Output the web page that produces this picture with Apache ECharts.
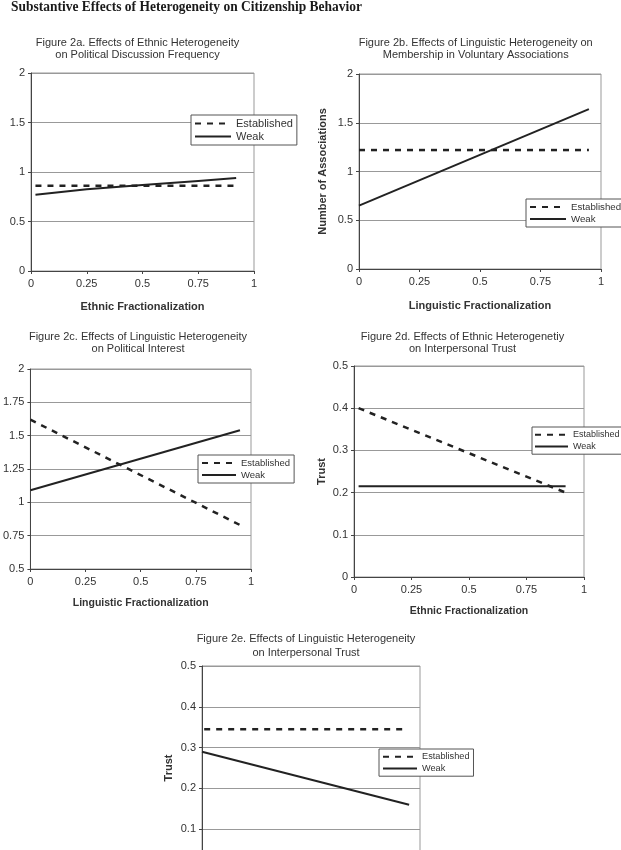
<!DOCTYPE html>
<html><head><meta charset="utf-8">
<script src="https://cdn.jsdelivr.net/npm/echarts@6/dist/echarts.min.js"></script>
<style>html,body{margin:0;padding:0;background:#fff;height:850px;overflow:hidden;}#c{width:621px;height:900px;}</style>
</head><body><div id="c"></div>
<script>
const mainTitle = 'Substantive Effects of Heterogeneity on Citizenship Behavior';
const seriesNames = ['Established', 'Weak'];

const fig2aTitle = 'Figure 2a. Effects of Ethnic Heterogeneity\non Political Discussion Frequency';
const fig2aX = [0.02, 0.25, 0.5, 0.75, 0.92];
const fig2aEstablished = [0.86, 0.86, 0.86, 0.86, 0.86];
const fig2aWeak = [0.77, 0.825, 0.868, 0.91, 0.94];

const fig2bTitle = 'Figure 2b. Effects of Linguistic Heterogeneity on\nMembership in Voluntary Associations';
const fig2bX = [0, 0.95];
const fig2bEstablished = [1.22, 1.22];
const fig2bWeak = [0.65, 1.64];

const fig2cTitle = 'Figure 2c. Effects of Linguistic Heterogeneity\non Political Interest';
const fig2cX = [0, 0.95];
const fig2cEstablished = [1.62, 0.83];
const fig2cWeak = [1.09, 1.54];

const fig2dTitle = 'Figure 2d. Effects of Ethnic Heterogenetiy\non Interpersonal Trust';
const fig2dX = [0.02, 0.92];
const fig2dEstablished = [0.40, 0.20];
const fig2dWeak = [0.215, 0.215];

const fig2eTitle = 'Figure 2e. Effects of Linguistic Heterogeneity\non Interpersonal Trust';
const fig2eEstX = [0.01, 0.94];
const fig2eEstablished = [0.345, 0.345];
const fig2eWeakX = [0, 0.95];
const fig2eWeak = [0.29, 0.16];

const xNames = ['Ethnic Fractionalization', 'Linguistic Fractionalization', 'Linguistic Fractionalization', 'Ethnic Fractionalization', ''];
const yNames = ['', 'Number of Associations', '', 'Trust', 'Trust'];
const yRanges = [[0, 2, 0.5], [0, 2, 0.5], [0.5, 2, 0.25], [0, 0.5, 0.1], [0, 0.5, 0.1]];
const xRange = [0, 1, 0.25];

function pairs(xs, ys) { return xs.map((x, i) => [x, ys[i]]); }

const estData = [pairs(fig2aX, fig2aEstablished), pairs(fig2bX, fig2bEstablished), pairs(fig2cX, fig2cEstablished), pairs(fig2dX, fig2dEstablished), pairs(fig2eEstX, fig2eEstablished)];
const weakData = [pairs(fig2aX, fig2aWeak), pairs(fig2bX, fig2bWeak), pairs(fig2cX, fig2cWeak), pairs(fig2dX, fig2dWeak), pairs(fig2eWeakX, fig2eWeak)];

// layout
const grids = [
  {left: 31, top: 73, width: 223, height: 198},
  {left: 359, top: 74, width: 242, height: 195},
  {left: 28, top: 369, width: 223, height: 200},
  {left: 354, top: 366, width: 230, height: 211},
  {left: 202, top: 666, width: 218, height: 204}
];
const titlePos = [[137.5, 36.5, 12.5], [475.7, 36.5, 12.5], [138, 330.5, 12.5], [462.5, 330.5, 12.5], [306, 631.5, 14]];
const titles = [fig2aTitle, fig2bTitle, fig2cTitle, fig2dTitle, fig2eTitle];
const xNameGap = [30, 31, 29, 28.5, 30];
const yNameGap = [30, 31, 28, 27, 28];
const legendPos = [
  {left: 191, top: 115, fs: 11, iw: 36, pl: 3},
  {left: 526, top: 199, fs: 9.7, iw: 36, pl: 3},
  {left: 198, top: 455, fs: 9.5, iw: 34, pl: 3},
  {left: 532, top: 427, fs: 9, iw: 33, pl: 2},
  {left: 379, top: 749, fs: 9.2, iw: 34, pl: 3}
];

const FONT = '"Liberation Sans", Arial, sans-serif';
const chart = echarts.init(document.getElementById('c'), null, {renderer: 'canvas', width: 621, height: 900});

// main title width fit
const cv = document.createElement('canvas').getContext('2d');
cv.font = 'bold 15px "Liberation Serif"';
const mw = cv.measureText(mainTitle).width;
const sx = 351 / mw;

const graphic = [{
  type: 'text', x: 11, y: 7.5, scaleX: sx,
  style: {text: mainTitle, font: 'bold 15px "Liberation Serif", serif', fill: '#1a1a1a', align: 'left', verticalAlign: 'middle'}
}];
titles.forEach((t, i) => {
  graphic.push({type: 'text', x: titlePos[i][0], y: titlePos[i][1],
    style: {text: t, font: '11px ' + FONT, fill: '#333', align: 'center', verticalAlign: 'top', lineHeight: titlePos[i][2]}});
});

const xAxis = [], yAxis = [], series = [], legend = [];
grids.forEach((g, i) => {
  xAxis.push({
    type: 'value', gridIndex: i, min: xRange[0], max: xRange[1], interval: xRange[2],
    name: xNames[i], nameLocation: 'middle', nameGap: xNameGap[i],
    nameTextStyle: {fontFamily: FONT, fontWeight: 'bold', fontSize: i >= 2 ? 10.5 : 11, color: '#333'},
    axisLine: {show: true, lineStyle: {color: '#444', width: 1}},
    axisTick: {show: true, length: 3, lineStyle: {color: '#444'}},
    axisLabel: {fontFamily: FONT, fontSize: 11, color: '#333', margin: 7},
    splitLine: {show: false}
  });
  yAxis.push({
    type: 'value', gridIndex: i, min: yRanges[i][0], max: yRanges[i][1], interval: yRanges[i][2],
    name: yNames[i], nameLocation: 'middle', nameGap: yNameGap[i], nameRotate: 90,
    nameTextStyle: {fontFamily: FONT, fontWeight: 'bold', fontSize: 11, color: '#333'},
    axisLine: {show: true, lineStyle: {color: '#444', width: 1}},
    axisTick: {show: true, length: 3, lineStyle: {color: '#444'}},
    axisLabel: {fontFamily: FONT, fontSize: 11, color: '#333', margin: 6},
    splitLine: {show: true, lineStyle: {color: '#999', width: 1}}
  });
  series.push({
    type: 'line', name: 'Established', xAxisIndex: i, yAxisIndex: i, data: estData[i],
    symbol: 'none', legendIcon: 'none', silent: true, lineStyle: {color: '#222', width: 2.5, type: [6, 6]}, itemStyle: {color: '#222'}
  });
  series.push({
    type: 'line', name: 'Weak', xAxisIndex: i, yAxisIndex: i, data: weakData[i],
    symbol: 'none', legendIcon: 'none', silent: true, lineStyle: {color: '#222', width: 2, type: 'solid'}, itemStyle: {color: '#222'}
  });
  const lp = legendPos[i];
  legend.push({
    data: seriesNames, orient: 'vertical', left: lp.left, top: lp.top,
    itemWidth: lp.iw, itemHeight: 12, itemGap: 2, padding: [3, 4, 3, lp.pl],
    backgroundColor: '#fff', borderColor: '#555', borderWidth: 1,
    itemStyle: {opacity: 0},
    textStyle: {fontFamily: FONT, fontSize: lp.fs, color: '#333'},
    selectedMode: false
  });
});

chart.setOption({
  animation: false,
  backgroundColor: '#fff',
  grid: grids.map(g => Object.assign({show: true, borderColor: '#999', borderWidth: 1, backgroundColor: 'transparent', containLabel: false}, g)),
  xAxis, yAxis, series, legend, graphic
});
</script></body></html>
